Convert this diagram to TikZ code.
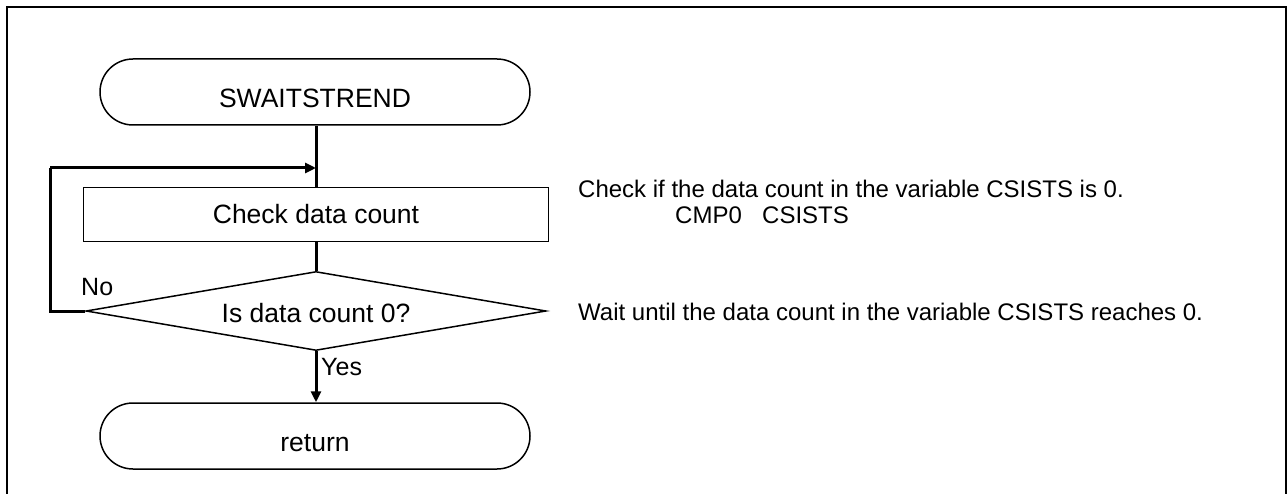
\documentclass[tikz,border=0pt]{standalone}
\usepackage{fontspec}
\setmainfont{Liberation Sans}
\usetikzlibrary{shapes.geometric,arrows.meta}
\begin{document}
\begin{tikzpicture}[x=1pt,y=-1pt,
  every node/.style={font=\fontsize{26.5}{31}\selectfont},
  term/.style={draw,line width=1.5pt,rounded corners=33pt,minimum width=430pt,minimum height=66pt,inner sep=0pt,text height=31pt,text depth=0pt},
  proc/.style={draw,line width=1.5pt,minimum width=465pt,minimum height=54pt,inner sep=0pt,text height=19pt,text depth=0pt},
  dec/.style={draw,diamond,aspect=5.8,line width=1.5pt,minimum width=460pt,minimum height=79pt,inner sep=0pt,text height=22pt,text depth=0pt},
  conn/.style={line width=3pt},
  arr/.style={line width=3pt,-{Triangle[length=11pt,width=10pt]}},
  lbl/.style={anchor=base west,inner sep=0pt,font=\fontsize{25}{30}\selectfont},
  note/.style={anchor=base west,inner sep=0pt,font=\fontsize{24}{29}\selectfont}]
\useasboundingbox (0,0) rectangle (1287,494);
\draw[line width=2pt] (6.5,500) -- (6.5,7.5) -- (1286,7.5) -- (1286,500);
\node[term] (start) at (315,92) {SWAITSTREND};
\node[proc] (check) at (316,214.5) {Check data count};
\node[dec] (test) at (316,311) {Is data count 0?};
\node[term] (ret) at (315,436) {return};
\coordinate (join) at (316,168);
\coordinate (loopb) at (50,311);
\coordinate (loopt) at (50,168);
\draw[conn] (start.south -| join) -- (check.north -| join);
\draw[conn] (check.south -| join) -- (test.north);
\draw[conn] (test.west) -- (loopb) -- (loopt);
\draw[arr] (loopt) -- (join);
\draw[arr] (test.south) -- (ret.north -| test.south);
\node[lbl] (no) at (81,295) {No};
\node[lbl] (yes) at (321,375) {Yes};
\node[note] (n1) at (578,198) {Check if the data count in the variable CSISTS is 0.};
\node[note] (n2) at (675,224) {\makebox[87pt][l]{CMP0}CSISTS};
\node[note] (n3) at (578,320) {Wait until the data count in the variable CSISTS reaches 0.};
\end{tikzpicture}
\end{document}
